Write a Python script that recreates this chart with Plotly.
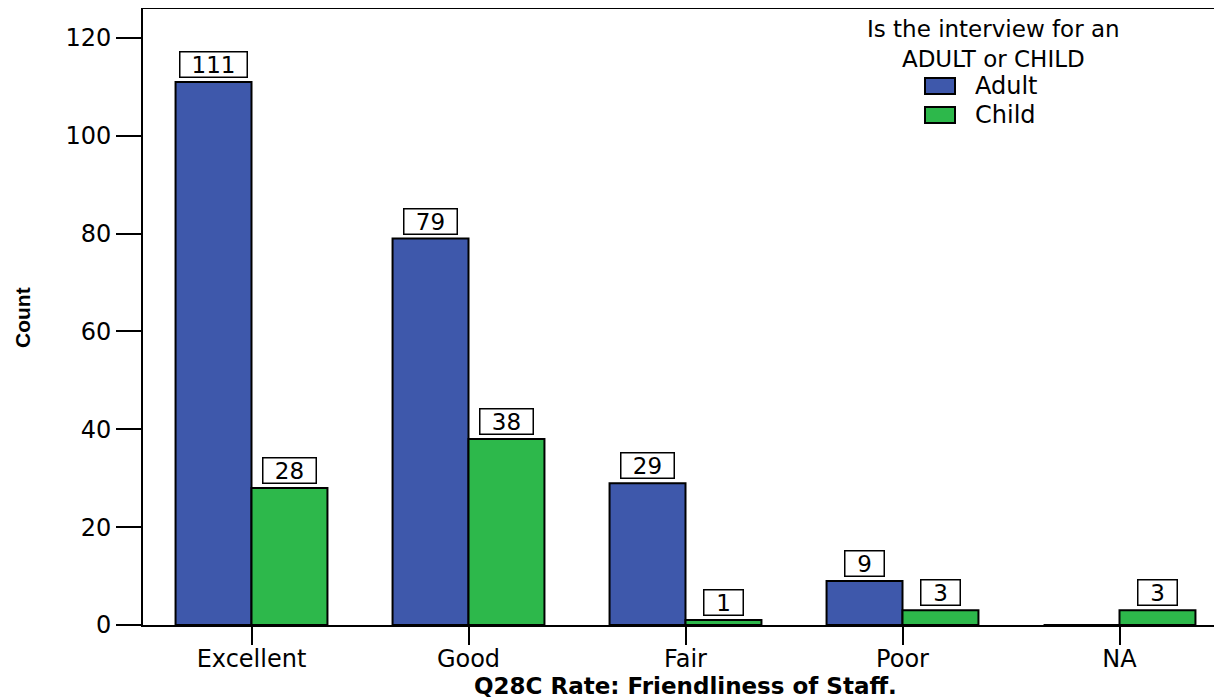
import plotly.graph_objects as go

categories = ["Excellent", "Good", "Fair", "Poor", "NA"]
adult = [111, 79, 29, 9, 0]
child = [28, 38, 1, 3, 3]
y_ticks = [0, 20, 40, 60, 80, 100, 120]
legend_title = "Is the interview for an<br>ADULT or CHILD"
series_names = ["Adult", "Child"]
x_title = "Q28C Rate: Friendliness of Staff."
y_title = "Count"

BLUE = "#3e58ab"
GREEN = "#2db84b"
FONT = "DejaVu Sans, Liberation Sans, Arial, sans-serif"
NARROW = "Liberation Sans Narrow, Arial Narrow, Liberation Sans, sans-serif"

# page body has ~8px offset; layout in figure pixels
W, H = 1222, 698
L, R, T, B = 135, 2, 1, 81
PW = W - L - R
PH = H - T - B


def px(x):
    return (x - L) / PW


def py(y):
    return (H - B - y) / PH


fig = go.Figure()
fig.add_trace(go.Bar(name=series_names[0], x=categories, y=adult,
                     marker=dict(color=BLUE, line=dict(color="black", width=2))))
fig.add_trace(go.Bar(name=series_names[1], x=categories, y=child,
                     marker=dict(color=GREEN, line=dict(color="black", width=2))))

annotations = []
off = 0.175
for i, (a, c) in enumerate(zip(adult, child)):
    for val, dx in ((a, -off), (c, off)):
        if val > 0:
            annotations.append(dict(
                x=i + dx, y=val, xref="x", yref="y", text=str(val), showarrow=False,
                yanchor="bottom", yshift=4, font=dict(family=FONT, size=23, color="black"),
                bgcolor="white", bordercolor="black", borderwidth=1.5, borderpad=0,
                width=14 * len(str(val)) + 24, height=24, align="center",
            ))

# axis titles
annotations.append(dict(x=0.5, y=py(678), xref="paper", yref="paper", text="<b>" + x_title + "</b>",
                        showarrow=False, xanchor="center", yanchor="middle",
                        font=dict(family=FONT, size=23, color="black")))
annotations.append(dict(x=px(14), y=py(310), xref="paper", yref="paper", text="<b>" + y_title + "</b>",
                        showarrow=False, xanchor="center", yanchor="middle", textangle=-90,
                        font=dict(family=NARROW, size=21, color="black")))

# legend (manual, to match the reference's layout)
annotations.append(dict(x=px(985), y=py(36), xref="paper", yref="paper", text=legend_title,
                        showarrow=False, xanchor="center", yanchor="middle", align="center",
                        font=dict(family=FONT, size=23, color="black")))
shapes = []
for k, (nm, col) in enumerate(zip(series_names, [BLUE, GREEN])):
    yc = 78 + 29 * k
    shapes.append(dict(type="rect", xref="paper", yref="paper",
                       x0=px(917), x1=px(947), y0=py(yc - 8), y1=py(yc + 8),
                       fillcolor=col, line=dict(color="black", width=2)))
    annotations.append(dict(x=px(965), y=py(yc), xref="paper", yref="paper", text=nm,
                            showarrow=False, xanchor="left", yanchor="middle",
                            font=dict(family=FONT, size=24, color="black")))

fig.update_layout(
    width=W, height=H,
    margin=dict(l=L, r=R, t=T, b=B, autoexpand=False),
    paper_bgcolor="white", plot_bgcolor="white",
    barmode="group", bargap=0.3, bargroupgap=0,
    font=dict(family=FONT, size=22, color="black"),
    annotations=annotations, shapes=shapes,
    showlegend=False,
    xaxis=dict(
        showline=True, linecolor="black", linewidth=2, mirror=True,
        ticks="outside", ticklen=18, tickwidth=2, tickcolor="black",
        tickfont=dict(family=FONT, size=24), ticklabelstandoff=-7,
        showgrid=False, range=[-0.5, 4.5], automargin=False,
    ),
    yaxis=dict(
        showline=True, linecolor="black", linewidth=2,
        ticks="outside", ticklen=25, tickwidth=2, tickcolor="black",
        tickvals=y_ticks, tickfont=dict(family=FONT, size=24),
        showgrid=False, zeroline=False, range=[0, PH / 4.892], automargin=False,
    ),
)

fig.write_html("out.html")
